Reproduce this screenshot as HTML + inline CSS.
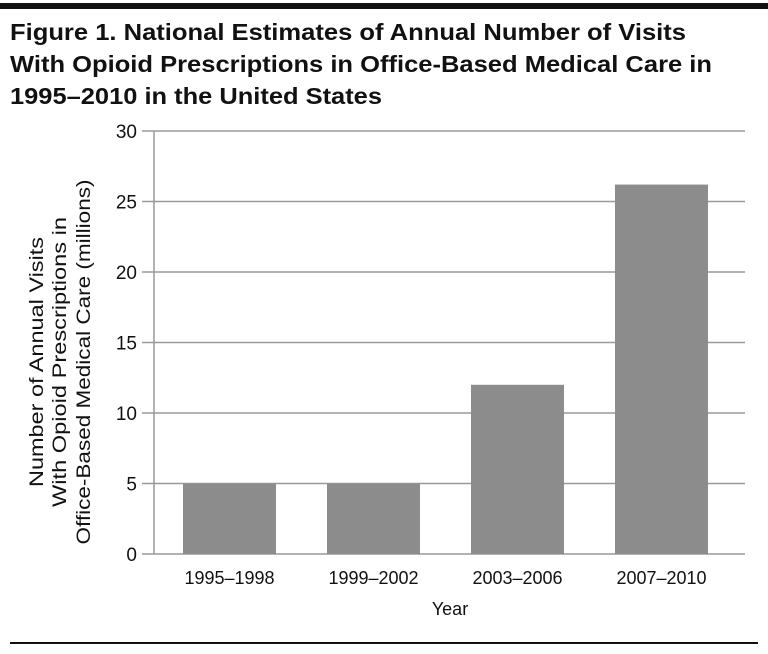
<!DOCTYPE html>
<html><head><meta charset="utf-8"><style>
body{margin:0;background:#fff;width:768px;height:649px;overflow:hidden;font-family:"Liberation Sans",sans-serif}
</style></head><body>
<svg width="768" height="649" xmlns="http://www.w3.org/2000/svg">
<rect x="0" y="3" width="768" height="6" fill="#111"/>
<g font-family="Liberation Sans, sans-serif" font-weight="bold" font-size="23" fill="#111">
<text x="10" y="40" textLength="676" lengthAdjust="spacingAndGlyphs">Figure 1. National Estimates of Annual Number of Visits</text>
<text x="10" y="72" textLength="702" lengthAdjust="spacingAndGlyphs">With Opioid Prescriptions in Office-Based Medical Care in</text>
<text x="10" y="104" textLength="372" lengthAdjust="spacingAndGlyphs">1995–2010 in the United States</text>
</g>
<g id="grid"></g><g id="bars"></g><g id="axes"></g>
<g font-size="19" fill="#111" text-anchor="middle" transform="translate(84,362) rotate(-90)">
<text y="-41" textLength="250" lengthAdjust="spacingAndGlyphs">Number of Annual Visits</text>
<text y="-18" textLength="290" lengthAdjust="spacingAndGlyphs">With Opioid Prescriptions in</text>
<text y="6" textLength="365" lengthAdjust="spacingAndGlyphs">Office-Based Medical Care (millions)</text>
</g>
<text x="450" y="615" font-size="18" text-anchor="middle" fill="#111">Year</text>
<rect x="10" y="642" width="748" height="2" fill="#111"/>
</svg>
<script>
const categories=["1995–1998","1999–2002","2003–2006","2007–2010"];
const values=[5,5,12,26.2];
const yTicks=[0,5,10,15,20,25,30];
const NS="http://www.w3.org/2000/svg";
const x0=154,x1=745,y0=554,yMax=30,ppu=(554-131)/yMax;
const y=v=>y0-v*ppu;
const slot=144, firstCenter=229.5, bw=93;
function mk(t,a,p){const e=document.createElementNS(NS,t);for(const k in a)e.setAttribute(k,a[k]);p.appendChild(e);return e;}
const grid=document.getElementById('grid'),bars=document.getElementById('bars'),axes=document.getElementById('axes');
yTicks.forEach(t=>{
 const l=mk('line',{x1:142,x2:x1,y1:y(t),y2:y(t),stroke:'#999','stroke-width':1.5},grid);
 
 
 const tx=mk('text',{x:137,y:y(t)+7,'text-anchor':'end','font-size':19,fill:'#111'},axes);
 tx.textContent=t;
 
 
});
const ax=mk('line',{x1:x0,x2:x0,y1:y(30),y2:y0,stroke:'#999','stroke-width':1.5},axes);


categories.forEach((c,i)=>{
 const cx=firstCenter+slot*i;
 const r=mk('rect',{x:cx-bw/2,y:y(values[i]),width:bw,height:y0-y(values[i]),fill:'#8c8c8c'},bars);
 
 
 const t=mk('text',{x:cx,y:584,'text-anchor':'middle','font-size':18,fill:'#111'},axes);
 t.textContent=c;
 
 
});
</script>
</body></html>
